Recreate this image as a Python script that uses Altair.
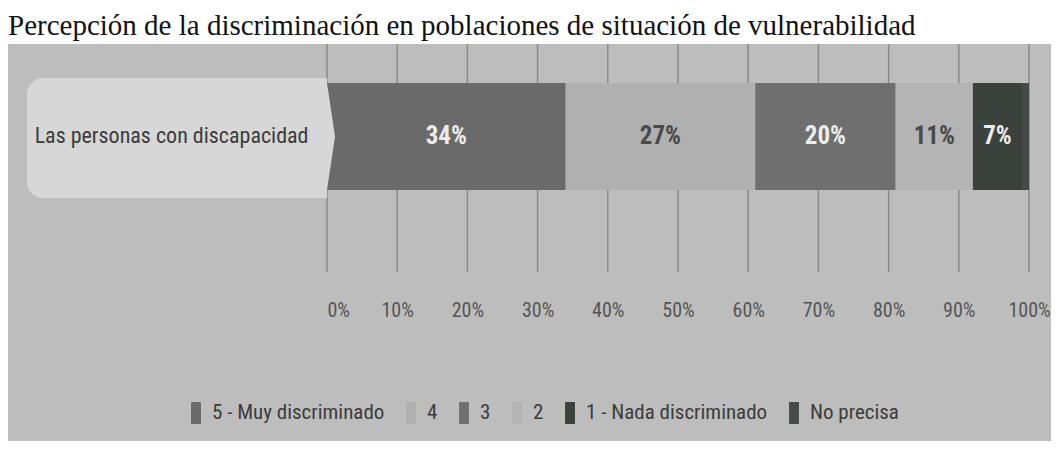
import altair as alt
import pandas as pd

# ---------------- data ----------------
titulo = "Percepción de la discriminación en poblaciones de situación de vulnerabilidad"
categorias = ["Las personas con discapacidad"]
niveles = ["5 - Muy discriminado", "4", "3", "2", "1 - Nada discriminado", "No precisa"]
valores = [34, 27, 20, 11, 7, 1]
colores = ["#6a6a6a", "#b0b0b0", "#6f6f6f", "#b4b4b4", "#3b413d", "#464a48"]
color_texto = ["#ececec", "#4a4a4a", "#ececec", "#4a4a4a", "#ececec", "#ececec"]
ticks = [0, 10, 20, 30, 40, 50, 60, 70, 80, 90, 100]

FONT = "'Roboto Condensed', Roboto, 'Liberation Sans', sans-serif"
SERIF = "'Liberation Serif', 'DejaVu Serif', serif"

df = pd.DataFrame({
    "categoria": categorias * len(niveles),
    "nivel": niveles,
    "valor": valores,
    "orden": list(range(len(niveles))),
    "color_texto": color_texto,
    "etiqueta": [f"{v}%" for v in valores],
})
df_ticks = pd.DataFrame({"t": ticks})
df_cat = pd.DataFrame({"categoria": categorias, "inicio": [0]})
df_one = pd.DataFrame({"a": [0]})
df_titulo = pd.DataFrame({"titulo": [titulo]})

W, H = 724, 228
PAD = {"left": 319, "right": 0, "top": 36, "bottom": 169}

xscale = alt.Scale(domain=[0, 103.13], nice=False, zero=False)
xaxis = alt.Axis(
    values=ticks, labelExpr="datum.value + '%'", grid=False, domain=False,
    ticks=False, title=None, labelFont=FONT, labelFontSize=20,
    labelColor="#555555", labelPadding=28, zindex=1,
)
yscale = alt.Scale(paddingInner=0, paddingOuter=0.5654, align=0.3223)
yaxis = alt.Axis(
    title=None, domain=False, ticks=False, labelFont=FONT, labelFontSize=22,
    labelColor="#3c3c3c", labelPadding=19, labelLimit=500, zindex=1,
)

panel = alt.Chart(df_one).mark_rect(color="#bdbdbd").encode(
    x=alt.value(-PAD["left"]), x2=alt.value(W),
    y=alt.value(0), y2=alt.value(H + PAD["bottom"]),
)

titulo_txt = alt.Chart(df_titulo).mark_text(
    align="left", baseline="alphabetic", font=SERIF, fontSize=29, color="#111111"
).encode(x=alt.value(-PAD["left"]), y=alt.value(-9), text="titulo:N")

grid = alt.Chart(df_ticks).mark_rule(color="#8a8a8a", strokeWidth=1.5).encode(
    x=alt.X("t:Q", scale=xscale, axis=xaxis)
)

caja = alt.Chart(df_one).mark_rect(
    color="#d7d7d7", cornerRadiusTopLeft=16, cornerRadiusBottomLeft=16
).encode(
    x=alt.value(-300), x2=alt.value(0), y=alt.value(34), y2=alt.value(154)
)

barras = alt.Chart(df).mark_bar().encode(
    x=alt.X("valor:Q", stack="zero", scale=xscale, axis=xaxis),
    y=alt.Y("categoria:N", scale=yscale, axis=yaxis),
    color=alt.Color(
        "nivel:N",
        scale=alt.Scale(domain=niveles, range=colores),
        legend=alt.Legend(
            orient="none", legendX=-142, legendY=358, direction="horizontal",
            title=None, symbolType="M-0.45,-1H0.45V1H-0.45Z", symbolSize=484,
            symbolStrokeWidth=0, symbolOpacity=1, labelFont=FONT,
            labelFontSize=21, labelColor="#3c3c3c", columnPadding=15,
            labelOffset=5, labelLimit=400, zindex=1,
        ),
    ),
    order=alt.Order("orden:Q"),
)

chevron = alt.Chart(df_cat).mark_point(
    shape="M0,-1L0.15,0L0,1Z", filled=True, size=11449, opacity=1,
    color="#d7d7d7", strokeWidth=0,
).encode(
    x=alt.X("inicio:Q", scale=xscale, axis=xaxis),
    y=alt.Y("categoria:N", scale=yscale, axis=yaxis),
)

etiquetas = alt.Chart(df).transform_stack(
    stack="valor", groupby=["categoria"], as_=["ini", "fin"],
    sort=[alt.SortField("orden")],
).transform_calculate(
    mid="(datum.ini + datum.fin) / 2"
).transform_filter(
    "datum.valor >= 5"
).mark_text(font=FONT, fontSize=25, fontWeight="bold").encode(
    x=alt.X("mid:Q", scale=xscale, axis=xaxis),
    y=alt.Y("categoria:N", scale=yscale, axis=yaxis),
    text="etiqueta:N",
    color=alt.Color("color_texto:N", scale=None),
)

chart = alt.layer(panel, titulo_txt, grid, caja, barras, chevron, etiquetas).properties(
    width=W, height=H, padding=PAD,
    autosize=alt.AutoSizeParams(type="none"),
    background="white",
).configure_view(stroke=None)

chart.save("out.html", embed_options={"renderer": "svg", "actions": False})
